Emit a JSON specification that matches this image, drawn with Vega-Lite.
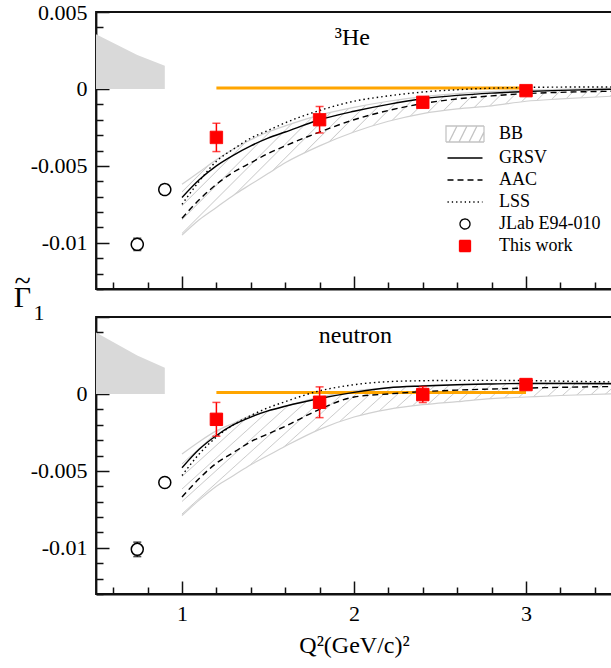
{
  "$schema": "https://vega.github.io/schema/vega-lite/v6.json",
  "background": "white",
  "padding": {"left": 12, "top": 0, "right": 0, "bottom": 0},
  "autosize": {"type": "pad"},
  "bounds": "flush",
  "spacing": 28,
  "config": {
    "font": "Liberation Serif",
    "view": {"stroke": "#111111", "strokeWidth": 1.8},
    "axis": {
      "grid": false,
      "tickCount": 100,
      "domainColor": "#111111",
      "domainWidth": 1.8,
      "tickColor": "#111111",
      "tickWidth": 1.5,
      "labelFont": "Liberation Serif",
      "labelFontSize": 22,
      "labelColor": "black",
      "labelFlush": false,
      "labelOverlap": false,
      "labelBound": false,
      "titleFont": "Liberation Serif",
      "titleFontWeight": "normal",
      "titleColor": "black",
      "zindex": 1
    },
    "legend": {
      "symbolSize": 400,
      "symbolStrokeWidth": 1.3,
      "labelFont": "Liberation Serif",
      "labelFontSize": 18,
      "labelColor": "black",
      "labelOffset": 23,
      "labelLimit": 300,
      "rowPadding": 2,
      "padding": 0
    }
  },
  "datasets": {
    "he_models": [
      {"x": 1.0, "GRSV": -0.00705, "AAC": -0.0084, "LSS": -0.0075, "BBhi": -0.0062, "BBlo": -0.0095},
      {"x": 1.1, "GRSV": -0.0059, "AAC": -0.0072, "LSS": -0.0060, "BBhi": -0.0054, "BBlo": -0.0085},
      {"x": 1.2, "GRSV": -0.0050, "AAC": -0.0062, "LSS": -0.0047, "BBhi": -0.0046, "BBlo": -0.0077},
      {"x": 1.3, "GRSV": -0.0043, "AAC": -0.0054, "LSS": -0.0039, "BBhi": -0.0039, "BBlo": -0.0069},
      {"x": 1.4, "GRSV": -0.0037, "AAC": -0.0048, "LSS": -0.0032, "BBhi": -0.0033, "BBlo": -0.0062},
      {"x": 1.5, "GRSV": -0.0032, "AAC": -0.0042, "LSS": -0.0027, "BBhi": -0.0028, "BBlo": -0.0055},
      {"x": 1.6, "GRSV": -0.0028, "AAC": -0.0037, "LSS": -0.0022, "BBhi": -0.0024, "BBlo": -0.0048},
      {"x": 1.8, "GRSV": -0.0020, "AAC": -0.0028, "LSS": -0.0014, "BBhi": -0.0017, "BBlo": -0.0037},
      {"x": 2.0, "GRSV": -0.00145, "AAC": -0.0020, "LSS": -0.0008, "BBhi": -0.0012, "BBlo": -0.0028},
      {"x": 2.2, "GRSV": -0.0010, "AAC": -0.0014, "LSS": -0.00045, "BBhi": -0.0008, "BBlo": -0.0021},
      {"x": 2.4, "GRSV": -0.00064, "AAC": -0.00095, "LSS": -0.0002, "BBhi": -0.0005, "BBlo": -0.0016},
      {"x": 2.6, "GRSV": -0.00042, "AAC": -0.00065, "LSS": -0.00005, "BBhi": -0.0003, "BBlo": -0.0013},
      {"x": 2.8, "GRSV": -0.00027, "AAC": -0.00045, "LSS": 0.00005, "BBhi": -0.00017, "BBlo": -0.0011},
      {"x": 3.0, "GRSV": -0.00017, "AAC": -0.0003, "LSS": 0.0001, "BBhi": -0.00008, "BBlo": -0.0008},
      {"x": 3.2, "GRSV": -0.00009, "AAC": -0.00022, "LSS": 0.00012, "BBhi": -0.00002, "BBlo": -0.00065},
      {"x": 3.5, "GRSV": -0.00002, "AAC": -0.00015, "LSS": 0.00013, "BBhi": 0.00005, "BBlo": -0.00047}
    ],
    "n_models": [
      {"x": 1.0, "GRSV": -0.0048, "AAC": -0.0067, "LSS": -0.0053, "BBhi": -0.0039, "BBlo": -0.0079},
      {"x": 1.1, "GRSV": -0.0036, "AAC": -0.0055, "LSS": -0.0039, "BBhi": -0.0031, "BBlo": -0.0069},
      {"x": 1.2, "GRSV": -0.0027, "AAC": -0.0045, "LSS": -0.0028, "BBhi": -0.0024, "BBlo": -0.0060},
      {"x": 1.3, "GRSV": -0.0020, "AAC": -0.0038, "LSS": -0.0020, "BBhi": -0.0019, "BBlo": -0.0053},
      {"x": 1.4, "GRSV": -0.0015, "AAC": -0.0031, "LSS": -0.0014, "BBhi": -0.0014, "BBlo": -0.0046},
      {"x": 1.5, "GRSV": -0.0011, "AAC": -0.0026, "LSS": -0.0009, "BBhi": -0.0011, "BBlo": -0.0040},
      {"x": 1.6, "GRSV": -0.0008, "AAC": -0.0021, "LSS": -0.0005, "BBhi": -0.0008, "BBlo": -0.0034},
      {"x": 1.8, "GRSV": -0.0003, "AAC": -0.0010, "LSS": 0.0002, "BBhi": -0.0002, "BBlo": -0.0023},
      {"x": 2.0, "GRSV": 0.0001, "AAC": -0.0002, "LSS": 0.0006, "BBhi": 0.0002, "BBlo": -0.0015},
      {"x": 2.2, "GRSV": 0.0004, "AAC": 0.0, "LSS": 0.0008, "BBhi": 0.0004, "BBlo": -0.0010},
      {"x": 2.4, "GRSV": 0.00052, "AAC": 0.00015, "LSS": 0.00086, "BBhi": 0.00055, "BBlo": -0.0007},
      {"x": 2.6, "GRSV": 0.0006, "AAC": 0.00025, "LSS": 0.00088, "BBhi": 0.00062, "BBlo": -0.0005},
      {"x": 2.8, "GRSV": 0.00065, "AAC": 0.00032, "LSS": 0.00088, "BBhi": 0.00066, "BBlo": -0.0003},
      {"x": 3.0, "GRSV": 0.00068, "AAC": 0.00038, "LSS": 0.00087, "BBhi": 0.0007, "BBlo": -0.0002},
      {"x": 3.2, "GRSV": 0.00068, "AAC": 0.00043, "LSS": 0.00083, "BBhi": 0.00072, "BBlo": -0.0001},
      {"x": 3.5, "GRSV": 0.00066, "AAC": 0.00048, "LSS": 0.00078, "BBhi": 0.00074, "BBlo": 0.0}
    ],
    "he_shade": [
      {"x": 0.5, "top": 0.00355},
      {"x": 0.74, "top": 0.0022},
      {"x": 0.9, "top": 0.0015}
    ],
    "n_shade": [
      {"x": 0.5, "top": 0.0040},
      {"x": 0.74, "top": 0.0025},
      {"x": 0.9, "top": 0.0017}
    ],
    "he_sys": [
      {"x": 1.2, "y": 0.00006},
      {"x": 3.0, "y": 0.00006}
    ],
    "n_sys": [
      {"x": 1.2, "y": 0.0001},
      {"x": 3.0, "y": 0.0001}
    ],
    "he_pts": [
      {"series": "JLab E94-010", "x": 0.74, "y": -0.0101, "err": 0.0004},
      {"series": "JLab E94-010", "x": 0.9, "y": -0.00654, "err": 0.0002},
      {"series": "This work", "x": 1.2, "y": -0.00315, "err": 0.00092},
      {"series": "This work", "x": 1.8, "y": -0.002, "err": 0.00086},
      {"series": "This work", "x": 2.4, "y": -0.00087, "err": 0.00035},
      {"series": "This work", "x": 3.0, "y": -0.00011, "err": 0.0001}
    ],
    "n_pts": [
      {"series": "JLab E94-010", "x": 0.74, "y": -0.0101, "err": 0.00047},
      {"series": "JLab E94-010", "x": 0.9, "y": -0.00575, "err": 0.00022},
      {"series": "This work", "x": 1.2, "y": -0.00165, "err": 0.0011},
      {"series": "This work", "x": 1.8, "y": -0.00054, "err": 0.001},
      {"series": "This work", "x": 2.4, "y": -0.00004, "err": 0.00052},
      {"series": "This work", "x": 3.0, "y": 0.00061, "err": 0.0001}
    ]
  },
  "resolve": {"legend": {"shape": "independent", "stroke": "independent", "fill": "independent", "strokeDash": "independent"}},
  "vconcat": [
    {
      "width": 516,
      "height": 277,
      "layer": [
        {
          "data": {"name": "he_shade"},
          "mark": {"type": "area", "color": "#d9d9d9"},
          "encoding": {
            "x": {"field": "x", "type": "quantitative", "scale": {"domain": [0.5, 3.5], "nice": false, "zero": false},
              "axis": {"values": [0.6, 0.8, 1, 1.2, 1.4, 1.6, 1.8, 2, 2.2, 2.4, 2.6, 2.8, 3, 3.2, 3.4], "tickCount": 100, "labels": false, "title": null, "labelOverlap": false,
                "tickSize": {"condition": {"test": "abs(datum.value - round(datum.value)) < 0.001", "value": -13}, "value": -7}}},
            "y": {"field": "top", "type": "quantitative", "scale": {"domain": [-0.013, 0.005], "nice": false, "zero": false},
              "axis": {"values": [-0.013, -0.012, -0.011, -0.01, -0.009, -0.008, -0.007, -0.006, -0.005, -0.004, -0.003, -0.002, -0.001, 0, 0.001, 0.002, 0.003, 0.004, 0.005], "tickCount": 100,
                "labelExpr": "abs(datum.value*200 - round(datum.value*200)) < 0.001 ? '' + round(datum.value*1000)/1000 : ''",
                "labelPadding": 22, "labelOverlap": false,
                "tickSize": {"condition": {"test": "abs(datum.value*200 - round(datum.value*200)) < 0.001", "value": -13}, "value": -7},
                "title": ["~", "Γ"], "titleFontSize": 30, "titleLineHeight": 16, "titleAngle": 0, "titleAlign": "center", "titleBaseline": "alphabetic", "titleX": -74, "titleY": 278}},
            "y2": {"datum": 0}
          }
        },
        {
          "data": {"name": "he_models"},
          "mark": {"type": "area", "interpolate": "monotone", "fill": {"gradient": "linear", "x1": 0, "y1": 0, "x2": 1.2014, "y2": 0.411, "stops": [
            {"offset": 0, "color": "#ffffff"},
            {"offset": 0.01, "color": "#ffffff"}, {"offset": 0.012, "color": "#cccccc"}, {"offset": 0.014, "color": "#ffffff"},
            {"offset": 0.034, "color": "#ffffff"}, {"offset": 0.036, "color": "#cccccc"}, {"offset": 0.038, "color": "#ffffff"},
            {"offset": 0.058, "color": "#ffffff"}, {"offset": 0.06, "color": "#cccccc"}, {"offset": 0.062, "color": "#ffffff"},
            {"offset": 0.082, "color": "#ffffff"}, {"offset": 0.084, "color": "#cccccc"}, {"offset": 0.086, "color": "#ffffff"},
            {"offset": 0.106, "color": "#ffffff"}, {"offset": 0.108, "color": "#cccccc"}, {"offset": 0.11, "color": "#ffffff"},
            {"offset": 0.13, "color": "#ffffff"}, {"offset": 0.132, "color": "#cccccc"}, {"offset": 0.134, "color": "#ffffff"},
            {"offset": 0.154, "color": "#ffffff"}, {"offset": 0.156, "color": "#cccccc"}, {"offset": 0.158, "color": "#ffffff"},
            {"offset": 0.178, "color": "#ffffff"}, {"offset": 0.18, "color": "#cccccc"}, {"offset": 0.182, "color": "#ffffff"},
            {"offset": 0.202, "color": "#ffffff"}, {"offset": 0.204, "color": "#cccccc"}, {"offset": 0.206, "color": "#ffffff"},
            {"offset": 0.226, "color": "#ffffff"}, {"offset": 0.228, "color": "#cccccc"}, {"offset": 0.23, "color": "#ffffff"},
            {"offset": 0.25, "color": "#ffffff"}, {"offset": 0.252, "color": "#cccccc"}, {"offset": 0.254, "color": "#ffffff"},
            {"offset": 0.274, "color": "#ffffff"}, {"offset": 0.276, "color": "#cccccc"}, {"offset": 0.278, "color": "#ffffff"},
            {"offset": 0.298, "color": "#ffffff"}, {"offset": 0.3, "color": "#cccccc"}, {"offset": 0.302, "color": "#ffffff"},
            {"offset": 0.322, "color": "#ffffff"}, {"offset": 0.324, "color": "#cccccc"}, {"offset": 0.326, "color": "#ffffff"},
            {"offset": 0.346, "color": "#ffffff"}, {"offset": 0.348, "color": "#cccccc"}, {"offset": 0.35, "color": "#ffffff"},
            {"offset": 0.37, "color": "#ffffff"}, {"offset": 0.372, "color": "#cccccc"}, {"offset": 0.374, "color": "#ffffff"},
            {"offset": 0.394, "color": "#ffffff"}, {"offset": 0.396, "color": "#cccccc"}, {"offset": 0.398, "color": "#ffffff"},
            {"offset": 0.418, "color": "#ffffff"}, {"offset": 0.42, "color": "#cccccc"}, {"offset": 0.422, "color": "#ffffff"},
            {"offset": 0.442, "color": "#ffffff"}, {"offset": 0.444, "color": "#cccccc"}, {"offset": 0.446, "color": "#ffffff"},
            {"offset": 0.466, "color": "#ffffff"}, {"offset": 0.468, "color": "#cccccc"}, {"offset": 0.47, "color": "#ffffff"},
            {"offset": 0.49, "color": "#ffffff"}, {"offset": 0.492, "color": "#cccccc"}, {"offset": 0.494, "color": "#ffffff"},
            {"offset": 0.514, "color": "#ffffff"}, {"offset": 0.516, "color": "#cccccc"}, {"offset": 0.518, "color": "#ffffff"},
            {"offset": 0.538, "color": "#ffffff"}, {"offset": 0.54, "color": "#cccccc"}, {"offset": 0.542, "color": "#ffffff"},
            {"offset": 0.562, "color": "#ffffff"}, {"offset": 0.564, "color": "#cccccc"}, {"offset": 0.566, "color": "#ffffff"},
            {"offset": 0.586, "color": "#ffffff"}, {"offset": 0.588, "color": "#cccccc"}, {"offset": 0.59, "color": "#ffffff"},
            {"offset": 0.61, "color": "#ffffff"}, {"offset": 0.612, "color": "#cccccc"}, {"offset": 0.614, "color": "#ffffff"},
            {"offset": 0.634, "color": "#ffffff"}, {"offset": 0.636, "color": "#cccccc"}, {"offset": 0.638, "color": "#ffffff"},
            {"offset": 0.658, "color": "#ffffff"}, {"offset": 0.66, "color": "#cccccc"}, {"offset": 0.662, "color": "#ffffff"},
            {"offset": 0.682, "color": "#ffffff"}, {"offset": 0.684, "color": "#cccccc"}, {"offset": 0.686, "color": "#ffffff"},
            {"offset": 0.706, "color": "#ffffff"}, {"offset": 0.708, "color": "#cccccc"}, {"offset": 0.71, "color": "#ffffff"},
            {"offset": 0.73, "color": "#ffffff"}, {"offset": 0.732, "color": "#cccccc"}, {"offset": 0.734, "color": "#ffffff"},
            {"offset": 0.754, "color": "#ffffff"}, {"offset": 0.756, "color": "#cccccc"}, {"offset": 0.758, "color": "#ffffff"},
            {"offset": 0.778, "color": "#ffffff"}, {"offset": 0.78, "color": "#cccccc"}, {"offset": 0.782, "color": "#ffffff"},
            {"offset": 0.802, "color": "#ffffff"}, {"offset": 0.804, "color": "#cccccc"}, {"offset": 0.806, "color": "#ffffff"},
            {"offset": 0.826, "color": "#ffffff"}, {"offset": 0.828, "color": "#cccccc"}, {"offset": 0.83, "color": "#ffffff"},
            {"offset": 0.85, "color": "#ffffff"}, {"offset": 0.852, "color": "#cccccc"}, {"offset": 0.854, "color": "#ffffff"},
            {"offset": 0.874, "color": "#ffffff"}, {"offset": 0.876, "color": "#cccccc"}, {"offset": 0.878, "color": "#ffffff"},
            {"offset": 0.898, "color": "#ffffff"}, {"offset": 0.9, "color": "#cccccc"}, {"offset": 0.902, "color": "#ffffff"},
            {"offset": 0.922, "color": "#ffffff"}, {"offset": 0.924, "color": "#cccccc"}, {"offset": 0.926, "color": "#ffffff"},
            {"offset": 0.946, "color": "#ffffff"}, {"offset": 0.948, "color": "#cccccc"}, {"offset": 0.95, "color": "#ffffff"},
            {"offset": 0.97, "color": "#ffffff"}, {"offset": 0.972, "color": "#cccccc"}, {"offset": 0.974, "color": "#ffffff"},
            {"offset": 1, "color": "#ffffff"}
          ]}},
          "encoding": {
            "x": {"field": "x", "type": "quantitative"},
            "y": {"field": "BBhi", "type": "quantitative"},
            "y2": {"field": "BBlo"}
          }
        },
        {
          "data": {"name": "he_models"},
          "mark": {"type": "line", "interpolate": "monotone", "color": "#d0d0d0", "strokeWidth": 1.2},
          "encoding": {"x": {"field": "x", "type": "quantitative"}, "y": {"field": "BBhi", "type": "quantitative"}}
        },
        {
          "data": {"name": "he_models"},
          "mark": {"type": "line", "interpolate": "monotone", "color": "#d0d0d0", "strokeWidth": 1.2},
          "encoding": {"x": {"field": "x", "type": "quantitative"}, "y": {"field": "BBlo", "type": "quantitative"}}
        },
        {
          "data": {"name": "he_sys"},
          "mark": {"type": "line", "color": "#ffa500", "strokeWidth": 2.8},
          "encoding": {"x": {"field": "x", "type": "quantitative"}, "y": {"field": "y", "type": "quantitative"}}
        },
        {
          "data": {"name": "he_models"},
          "mark": {"type": "line", "interpolate": "monotone", "color": "black", "strokeWidth": 1.4},
          "encoding": {"x": {"field": "x", "type": "quantitative"}, "y": {"field": "GRSV", "type": "quantitative"}}
        },
        {
          "data": {"name": "he_models"},
          "mark": {"type": "line", "interpolate": "monotone", "color": "black", "strokeWidth": 1.4, "strokeDash": [6, 4]},
          "encoding": {"x": {"field": "x", "type": "quantitative"}, "y": {"field": "AAC", "type": "quantitative"}}
        },
        {
          "data": {"name": "he_models"},
          "mark": {"type": "line", "interpolate": "monotone", "color": "black", "strokeWidth": 1.4, "strokeDash": [1.5, 3]},
          "encoding": {"x": {"field": "x", "type": "quantitative"}, "y": {"field": "LSS", "type": "quantitative"}}
        },
        {
          "data": {"name": "he_pts"},
          "transform": [{"filter": "datum.series === 'JLab E94-010'"}],
          "mark": {"type": "errorbar", "ticks": true, "size": 8, "thickness": 1.5, "color": "black"},
          "encoding": {"x": {"field": "x", "type": "quantitative", "title": null}, "y": {"field": "y", "type": "quantitative", "title": ["~", "Γ"]}, "yError": {"field": "err"}}
        },
        {
          "data": {"name": "he_pts"},
          "transform": [{"filter": "datum.series === 'This work'"}],
          "mark": {"type": "errorbar", "ticks": true, "size": 8, "thickness": 1.5, "color": "red"},
          "encoding": {"x": {"field": "x", "type": "quantitative", "title": null}, "y": {"field": "y", "type": "quantitative", "title": ["~", "Γ"]}, "yError": {"field": "err"}}
        },
        {
          "data": {"name": "he_pts"},
          "transform": [{"filter": "datum.series === 'JLab E94-010'"}],
          "mark": {"type": "point", "filled": true, "size": 576, "strokeWidth": 1.5, "opacity": 1},
          "encoding": {
            "x": {"field": "x", "type": "quantitative"},
            "y": {"field": "y", "type": "quantitative"},
            "shape": {"field": "series", "type": "nominal", "scale": {"domain": ["BB", "GRSV", "AAC", "LSS", "JLab E94-010", "This work"], "range": ["M-1.9,-0.8H1.9V0.8H-1.9ZM-1.6,0.8L-0.8,-0.8M-0.6,0.8L0.2,-0.8M0.4,0.8L1.2,-0.8M1.4,0.8L1.9,-0.2", "M-1.75,0H1.75", "M-1.75,0H1.75", "M-1.75,0H1.75", "M0.5,0A0.5,0.5,0,1,1,-0.5,0A0.5,0.5,0,1,1,0.5,0Z", "M-0.55,-0.55H0.55V0.55H-0.55Z"]}, "legend": {"orient": "none", "legendX": 358, "legendY": 111, "title": null}},
            "stroke": {"field": "series", "type": "nominal", "scale": {"domain": ["BB", "GRSV", "AAC", "LSS", "JLab E94-010", "This work"], "range": ["#c4c4c4", "black", "black", "black", "black", "red"]}, "legend": {"orient": "none", "legendX": 358, "legendY": 111, "title": null}},
            "fill": {"field": "series", "type": "nominal", "scale": {"domain": ["BB", "GRSV", "AAC", "LSS", "JLab E94-010", "This work"], "range": ["transparent", "transparent", "transparent", "transparent", "white", "red"]}, "legend": {"orient": "none", "legendX": 358, "legendY": 111, "title": null}},
            "strokeDash": {"field": "series", "type": "nominal", "scale": {"domain": ["BB", "GRSV", "AAC", "LSS", "JLab E94-010", "This work"], "range": [[1, 0], [1, 0], [6, 4], [1.3, 3], [1, 0], [1, 0]]}, "legend": {"orient": "none", "legendX": 358, "legendY": 111, "title": null}}
          }
        },
        {
          "data": {"name": "he_pts"},
          "transform": [{"filter": "datum.series === 'This work'"}],
          "mark": {"type": "point", "filled": true, "size": 510, "strokeWidth": 1, "opacity": 1},
          "encoding": {
            "x": {"field": "x", "type": "quantitative"},
            "y": {"field": "y", "type": "quantitative"},
            "shape": {"field": "series", "type": "nominal", "scale": {"domain": ["BB", "GRSV", "AAC", "LSS", "JLab E94-010", "This work"], "range": ["M-1.9,-0.8H1.9V0.8H-1.9ZM-1.6,0.8L-0.8,-0.8M-0.6,0.8L0.2,-0.8M0.4,0.8L1.2,-0.8M1.4,0.8L1.9,-0.2", "M-1.75,0H1.75", "M-1.75,0H1.75", "M-1.75,0H1.75", "M0.5,0A0.5,0.5,0,1,1,-0.5,0A0.5,0.5,0,1,1,0.5,0Z", "M-0.55,-0.55H0.55V0.55H-0.55Z"]}, "legend": {"orient": "none", "legendX": 358, "legendY": 111, "title": null}},
            "stroke": {"field": "series", "type": "nominal", "scale": {"domain": ["BB", "GRSV", "AAC", "LSS", "JLab E94-010", "This work"], "range": ["#c4c4c4", "black", "black", "black", "black", "red"]}, "legend": {"orient": "none", "legendX": 358, "legendY": 111, "title": null}},
            "fill": {"field": "series", "type": "nominal", "scale": {"domain": ["BB", "GRSV", "AAC", "LSS", "JLab E94-010", "This work"], "range": ["transparent", "transparent", "transparent", "transparent", "white", "red"]}, "legend": {"orient": "none", "legendX": 358, "legendY": 111, "title": null}},
            "strokeDash": {"field": "series", "type": "nominal", "scale": {"domain": ["BB", "GRSV", "AAC", "LSS", "JLab E94-010", "This work"], "range": [[1, 0], [1, 0], [6, 4], [1.3, 3], [1, 0], [1, 0]]}, "legend": {"orient": "none", "legendX": 358, "legendY": 111, "title": null}}
          }
        },
        {
          "data": {"values": [{"label": "³He"}]},
          "mark": {"type": "text", "font": "Liberation Serif", "fontSize": 24, "align": "left", "baseline": "alphabetic", "color": "black"},
          "encoding": {
            "x": {"datum": 1.888, "type": "quantitative"},
            "y": {"datum": 0.00285, "type": "quantitative"},
            "text": {"field": "label"}
          }
        }
      ]
    },
    {
      "width": 516,
      "height": 277,
      "layer": [
        {
          "data": {"name": "n_shade"},
          "mark": {"type": "area", "color": "#d9d9d9"},
          "encoding": {
            "x": {"field": "x", "type": "quantitative", "scale": {"domain": [0.5, 3.5], "nice": false, "zero": false},
              "axis": {"values": [0.6, 0.8, 1, 1.2, 1.4, 1.6, 1.8, 2, 2.2, 2.4, 2.6, 2.8, 3, 3.2, 3.4], "tickCount": 100,
                "labelExpr": "abs(datum.value - round(datum.value)) < 0.001 ? '' + round(datum.value) : ''",
                "labelPadding": 22, "labelOverlap": false,
                "tickSize": {"condition": {"test": "abs(datum.value - round(datum.value)) < 0.001", "value": -13}, "value": -7},
                "title": "Q²(GeV/c)²", "titleFontSize": 24, "titleBaseline": "alphabetic", "titleX": 258, "titleY": 58}},
            "y": {"field": "top", "type": "quantitative", "scale": {"domain": [-0.013, 0.005], "nice": false, "zero": false},
              "axis": {"values": [-0.013, -0.012, -0.011, -0.01, -0.009, -0.008, -0.007, -0.006, -0.005, -0.004, -0.003, -0.002, -0.001, 0, 0.001, 0.002, 0.003, 0.004, 0.005], "tickCount": 100,
                "labelExpr": "datum.value < 0.004 && abs(datum.value*200 - round(datum.value*200)) < 0.001 ? '' + round(datum.value*1000)/1000 : ''",
                "labelPadding": 22, "labelOverlap": false,
                "tickSize": {"condition": {"test": "abs(datum.value*200 - round(datum.value*200)) < 0.001", "value": -13}, "value": -7},
                "title": "1", "titleFontSize": 22, "titleAngle": 0, "titleAlign": "left", "titleBaseline": "alphabetic", "titleX": -63, "titleY": 2}},
            "y2": {"datum": 0}
          }
        },
        {
          "data": {"name": "n_models"},
          "mark": {"type": "area", "interpolate": "monotone", "fill": {"gradient": "linear", "x1": 0, "y1": 0, "x2": 1.2014, "y2": 0.411, "stops": [
            {"offset": 0, "color": "#ffffff"},
            {"offset": 0.01, "color": "#ffffff"}, {"offset": 0.012, "color": "#cccccc"}, {"offset": 0.014, "color": "#ffffff"},
            {"offset": 0.034, "color": "#ffffff"}, {"offset": 0.036, "color": "#cccccc"}, {"offset": 0.038, "color": "#ffffff"},
            {"offset": 0.058, "color": "#ffffff"}, {"offset": 0.06, "color": "#cccccc"}, {"offset": 0.062, "color": "#ffffff"},
            {"offset": 0.082, "color": "#ffffff"}, {"offset": 0.084, "color": "#cccccc"}, {"offset": 0.086, "color": "#ffffff"},
            {"offset": 0.106, "color": "#ffffff"}, {"offset": 0.108, "color": "#cccccc"}, {"offset": 0.11, "color": "#ffffff"},
            {"offset": 0.13, "color": "#ffffff"}, {"offset": 0.132, "color": "#cccccc"}, {"offset": 0.134, "color": "#ffffff"},
            {"offset": 0.154, "color": "#ffffff"}, {"offset": 0.156, "color": "#cccccc"}, {"offset": 0.158, "color": "#ffffff"},
            {"offset": 0.178, "color": "#ffffff"}, {"offset": 0.18, "color": "#cccccc"}, {"offset": 0.182, "color": "#ffffff"},
            {"offset": 0.202, "color": "#ffffff"}, {"offset": 0.204, "color": "#cccccc"}, {"offset": 0.206, "color": "#ffffff"},
            {"offset": 0.226, "color": "#ffffff"}, {"offset": 0.228, "color": "#cccccc"}, {"offset": 0.23, "color": "#ffffff"},
            {"offset": 0.25, "color": "#ffffff"}, {"offset": 0.252, "color": "#cccccc"}, {"offset": 0.254, "color": "#ffffff"},
            {"offset": 0.274, "color": "#ffffff"}, {"offset": 0.276, "color": "#cccccc"}, {"offset": 0.278, "color": "#ffffff"},
            {"offset": 0.298, "color": "#ffffff"}, {"offset": 0.3, "color": "#cccccc"}, {"offset": 0.302, "color": "#ffffff"},
            {"offset": 0.322, "color": "#ffffff"}, {"offset": 0.324, "color": "#cccccc"}, {"offset": 0.326, "color": "#ffffff"},
            {"offset": 0.346, "color": "#ffffff"}, {"offset": 0.348, "color": "#cccccc"}, {"offset": 0.35, "color": "#ffffff"},
            {"offset": 0.37, "color": "#ffffff"}, {"offset": 0.372, "color": "#cccccc"}, {"offset": 0.374, "color": "#ffffff"},
            {"offset": 0.394, "color": "#ffffff"}, {"offset": 0.396, "color": "#cccccc"}, {"offset": 0.398, "color": "#ffffff"},
            {"offset": 0.418, "color": "#ffffff"}, {"offset": 0.42, "color": "#cccccc"}, {"offset": 0.422, "color": "#ffffff"},
            {"offset": 0.442, "color": "#ffffff"}, {"offset": 0.444, "color": "#cccccc"}, {"offset": 0.446, "color": "#ffffff"},
            {"offset": 0.466, "color": "#ffffff"}, {"offset": 0.468, "color": "#cccccc"}, {"offset": 0.47, "color": "#ffffff"},
            {"offset": 0.49, "color": "#ffffff"}, {"offset": 0.492, "color": "#cccccc"}, {"offset": 0.494, "color": "#ffffff"},
            {"offset": 0.514, "color": "#ffffff"}, {"offset": 0.516, "color": "#cccccc"}, {"offset": 0.518, "color": "#ffffff"},
            {"offset": 0.538, "color": "#ffffff"}, {"offset": 0.54, "color": "#cccccc"}, {"offset": 0.542, "color": "#ffffff"},
            {"offset": 0.562, "color": "#ffffff"}, {"offset": 0.564, "color": "#cccccc"}, {"offset": 0.566, "color": "#ffffff"},
            {"offset": 0.586, "color": "#ffffff"}, {"offset": 0.588, "color": "#cccccc"}, {"offset": 0.59, "color": "#ffffff"},
            {"offset": 0.61, "color": "#ffffff"}, {"offset": 0.612, "color": "#cccccc"}, {"offset": 0.614, "color": "#ffffff"},
            {"offset": 0.634, "color": "#ffffff"}, {"offset": 0.636, "color": "#cccccc"}, {"offset": 0.638, "color": "#ffffff"},
            {"offset": 0.658, "color": "#ffffff"}, {"offset": 0.66, "color": "#cccccc"}, {"offset": 0.662, "color": "#ffffff"},
            {"offset": 0.682, "color": "#ffffff"}, {"offset": 0.684, "color": "#cccccc"}, {"offset": 0.686, "color": "#ffffff"},
            {"offset": 0.706, "color": "#ffffff"}, {"offset": 0.708, "color": "#cccccc"}, {"offset": 0.71, "color": "#ffffff"},
            {"offset": 0.73, "color": "#ffffff"}, {"offset": 0.732, "color": "#cccccc"}, {"offset": 0.734, "color": "#ffffff"},
            {"offset": 0.754, "color": "#ffffff"}, {"offset": 0.756, "color": "#cccccc"}, {"offset": 0.758, "color": "#ffffff"},
            {"offset": 0.778, "color": "#ffffff"}, {"offset": 0.78, "color": "#cccccc"}, {"offset": 0.782, "color": "#ffffff"},
            {"offset": 0.802, "color": "#ffffff"}, {"offset": 0.804, "color": "#cccccc"}, {"offset": 0.806, "color": "#ffffff"},
            {"offset": 0.826, "color": "#ffffff"}, {"offset": 0.828, "color": "#cccccc"}, {"offset": 0.83, "color": "#ffffff"},
            {"offset": 0.85, "color": "#ffffff"}, {"offset": 0.852, "color": "#cccccc"}, {"offset": 0.854, "color": "#ffffff"},
            {"offset": 0.874, "color": "#ffffff"}, {"offset": 0.876, "color": "#cccccc"}, {"offset": 0.878, "color": "#ffffff"},
            {"offset": 0.898, "color": "#ffffff"}, {"offset": 0.9, "color": "#cccccc"}, {"offset": 0.902, "color": "#ffffff"},
            {"offset": 0.922, "color": "#ffffff"}, {"offset": 0.924, "color": "#cccccc"}, {"offset": 0.926, "color": "#ffffff"},
            {"offset": 0.946, "color": "#ffffff"}, {"offset": 0.948, "color": "#cccccc"}, {"offset": 0.95, "color": "#ffffff"},
            {"offset": 0.97, "color": "#ffffff"}, {"offset": 0.972, "color": "#cccccc"}, {"offset": 0.974, "color": "#ffffff"},
            {"offset": 1, "color": "#ffffff"}
          ]}},
          "encoding": {
            "x": {"field": "x", "type": "quantitative"},
            "y": {"field": "BBhi", "type": "quantitative"},
            "y2": {"field": "BBlo"}
          }
        },
        {
          "data": {"name": "n_models"},
          "mark": {"type": "line", "interpolate": "monotone", "color": "#d0d0d0", "strokeWidth": 1.2},
          "encoding": {"x": {"field": "x", "type": "quantitative"}, "y": {"field": "BBhi", "type": "quantitative"}}
        },
        {
          "data": {"name": "n_models"},
          "mark": {"type": "line", "interpolate": "monotone", "color": "#d0d0d0", "strokeWidth": 1.2},
          "encoding": {"x": {"field": "x", "type": "quantitative"}, "y": {"field": "BBlo", "type": "quantitative"}}
        },
        {
          "data": {"name": "n_sys"},
          "mark": {"type": "line", "color": "#ffa500", "strokeWidth": 3},
          "encoding": {"x": {"field": "x", "type": "quantitative"}, "y": {"field": "y", "type": "quantitative"}}
        },
        {
          "data": {"name": "n_models"},
          "mark": {"type": "line", "interpolate": "monotone", "color": "black", "strokeWidth": 1.4},
          "encoding": {"x": {"field": "x", "type": "quantitative"}, "y": {"field": "GRSV", "type": "quantitative"}}
        },
        {
          "data": {"name": "n_models"},
          "mark": {"type": "line", "interpolate": "monotone", "color": "black", "strokeWidth": 1.4, "strokeDash": [6, 4]},
          "encoding": {"x": {"field": "x", "type": "quantitative"}, "y": {"field": "AAC", "type": "quantitative"}}
        },
        {
          "data": {"name": "n_models"},
          "mark": {"type": "line", "interpolate": "monotone", "color": "black", "strokeWidth": 1.4, "strokeDash": [1.5, 3]},
          "encoding": {"x": {"field": "x", "type": "quantitative"}, "y": {"field": "LSS", "type": "quantitative"}}
        },
        {
          "data": {"name": "n_pts"},
          "transform": [{"filter": "datum.series === 'JLab E94-010'"}],
          "mark": {"type": "errorbar", "ticks": true, "size": 8, "thickness": 1.5, "color": "black"},
          "encoding": {"x": {"field": "x", "type": "quantitative", "title": "Q²(GeV/c)²"}, "y": {"field": "y", "type": "quantitative", "title": "1"}, "yError": {"field": "err"}}
        },
        {
          "data": {"name": "n_pts"},
          "transform": [{"filter": "datum.series === 'This work'"}],
          "mark": {"type": "errorbar", "ticks": true, "size": 8, "thickness": 1.5, "color": "red"},
          "encoding": {"x": {"field": "x", "type": "quantitative", "title": "Q²(GeV/c)²"}, "y": {"field": "y", "type": "quantitative", "title": "1"}, "yError": {"field": "err"}}
        },
        {
          "data": {"name": "n_pts"},
          "transform": [{"filter": "datum.series === 'JLab E94-010'"}],
          "mark": {"type": "point", "filled": true, "size": 576, "strokeWidth": 1.5, "opacity": 1},
          "encoding": {
            "x": {"field": "x", "type": "quantitative"},
            "y": {"field": "y", "type": "quantitative"},
            "shape": {"field": "series", "type": "nominal", "scale": {"domain": ["BB", "GRSV", "AAC", "LSS", "JLab E94-010", "This work"], "range": ["M-1.9,-0.8H1.9V0.8H-1.9ZM-1.6,0.8L-0.8,-0.8M-0.6,0.8L0.2,-0.8M0.4,0.8L1.2,-0.8M1.4,0.8L1.9,-0.2", "M-1.75,0H1.75", "M-1.75,0H1.75", "M-1.75,0H1.75", "M0.5,0A0.5,0.5,0,1,1,-0.5,0A0.5,0.5,0,1,1,0.5,0Z", "M-0.55,-0.55H0.55V0.55H-0.55Z"]}, "legend": null},
            "stroke": {"field": "series", "type": "nominal", "scale": {"domain": ["BB", "GRSV", "AAC", "LSS", "JLab E94-010", "This work"], "range": ["#c4c4c4", "black", "black", "black", "black", "red"]}, "legend": null},
            "fill": {"field": "series", "type": "nominal", "scale": {"domain": ["BB", "GRSV", "AAC", "LSS", "JLab E94-010", "This work"], "range": ["transparent", "transparent", "transparent", "transparent", "white", "red"]}, "legend": null}
          }
        },
        {
          "data": {"name": "n_pts"},
          "transform": [{"filter": "datum.series === 'This work'"}],
          "mark": {"type": "point", "filled": true, "size": 510, "strokeWidth": 1, "opacity": 1},
          "encoding": {
            "x": {"field": "x", "type": "quantitative"},
            "y": {"field": "y", "type": "quantitative"},
            "shape": {"field": "series", "type": "nominal", "scale": {"domain": ["BB", "GRSV", "AAC", "LSS", "JLab E94-010", "This work"], "range": ["M-1.9,-0.8H1.9V0.8H-1.9ZM-1.6,0.8L-0.8,-0.8M-0.6,0.8L0.2,-0.8M0.4,0.8L1.2,-0.8M1.4,0.8L1.9,-0.2", "M-1.75,0H1.75", "M-1.75,0H1.75", "M-1.75,0H1.75", "M0.5,0A0.5,0.5,0,1,1,-0.5,0A0.5,0.5,0,1,1,0.5,0Z", "M-0.55,-0.55H0.55V0.55H-0.55Z"]}, "legend": null},
            "stroke": {"field": "series", "type": "nominal", "scale": {"domain": ["BB", "GRSV", "AAC", "LSS", "JLab E94-010", "This work"], "range": ["#c4c4c4", "black", "black", "black", "black", "red"]}, "legend": null},
            "fill": {"field": "series", "type": "nominal", "scale": {"domain": ["BB", "GRSV", "AAC", "LSS", "JLab E94-010", "This work"], "range": ["transparent", "transparent", "transparent", "transparent", "white", "red"]}, "legend": null}
          }
        },
        {
          "data": {"values": [{"label": "neutron"}]},
          "mark": {"type": "text", "font": "Liberation Serif", "fontSize": 24, "align": "left", "baseline": "alphabetic", "color": "black"},
          "encoding": {
            "x": {"datum": 1.795, "type": "quantitative"},
            "y": {"datum": 0.0033, "type": "quantitative"},
            "text": {"field": "label"}
          }
        }
      ]
    }
  ]
}
